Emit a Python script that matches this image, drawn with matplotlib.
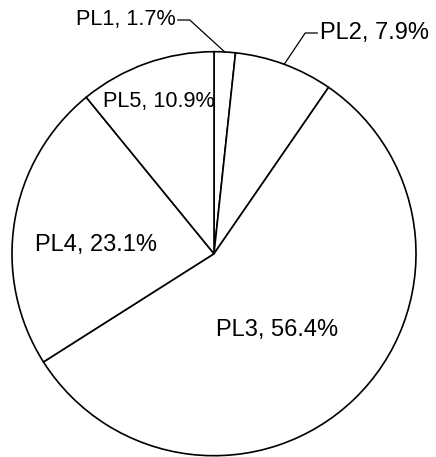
import matplotlib.pyplot as plt
import numpy as np

plt.rcParams['font.family'] = ['Liberation Sans', 'DejaVu Sans']

labels = ['PL1', 'PL2', 'PL3', 'PL4', 'PL5']
shares = [1.7, 7.9, 56.4, 23.1, 10.9]

W, H = 436, 457
fig = plt.figure(figsize=(W / 100, H / 100), dpi=100)
ax = fig.add_axes([0, 0, 1, 1])
ax.set_xlim(0, W)
ax.set_ylim(0, H)
ax.axis('off')

cx, cy, R = 214, H - 253.7, 202
wedges, _ = ax.pie(shares, startangle=90, counterclock=False, center=(cx, cy),
                   radius=R, colors=['white'] * 5,
                   wedgeprops=dict(edgecolor='black', linewidth=1.2))
ax.set_xlim(0, W)
ax.set_ylim(0, H)
ax.set_aspect('equal')

# inner labels: (distance as fraction of R, angle shift, fontsize)
inner = {2: (0.49, -4.4, 17), 3: (0.585, 5.0, 17), 4: (0.80, 0.4, 15.6)}
for i, (dist, shift, fs) in inner.items():
    w = wedges[i]
    mid = np.deg2rad((w.theta1 + w.theta2) / 2 + shift)
    ax.text(cx + dist * R * np.cos(mid), cy + dist * R * np.sin(mid),
            f'{labels[i]}, {shares[i]}%', ha='center', va='center', fontsize=fs)

# outer labels with leader lines: (knee dx, knee y, end dx, fontsize)
outer = {0: (-35, H - 20, -12, 15.6), 1: (21, H - 33, 12, 17)}
for i, (kdx, ky, edx, fs) in outer.items():
    w = wedges[i]
    mid = np.deg2rad((w.theta1 + w.theta2) / 2)
    px, py = cx + R * np.cos(mid), cy + R * np.sin(mid)
    kx = px + kdx
    ex = kx + edx
    ax.plot([px, kx, ex], [py, ky, ky], color='black', linewidth=0.9)
    ax.text(ex + (3 if edx > 0 else -2), ky + 0.5, f'{labels[i]}, {shares[i]}%',
            ha='left' if edx > 0 else 'right', va='center', fontsize=fs)

fig.savefig('out.png', dpi=100)
